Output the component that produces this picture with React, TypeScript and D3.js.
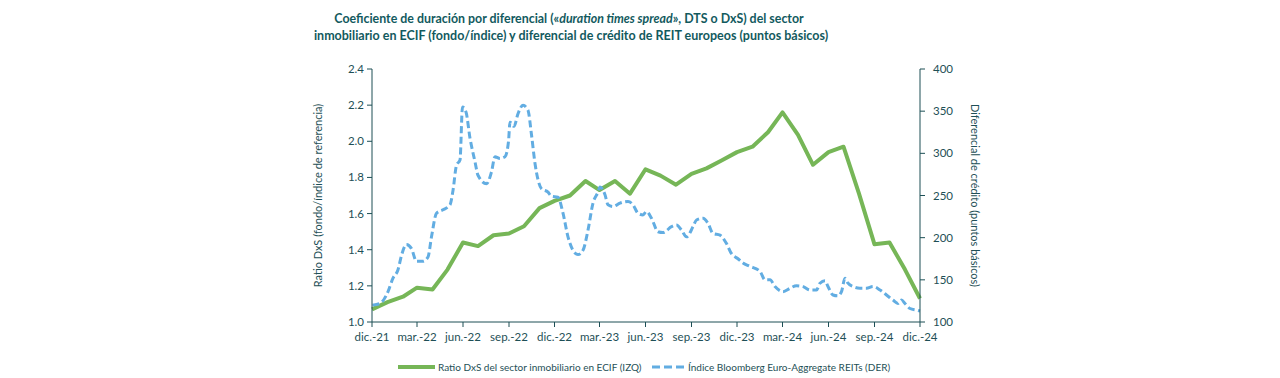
import React from "react";
import * as d3 from "d3";

const quarterLabels = ["dic.-21", "mar.-22", "jun.-22", "sep.-22", "dic.-22", "mar.-23", "jun.-23", "sep.-23", "dic.-23", "mar.-24", "jun.-24", "sep.-24", "dic.-24"];
const quarterDates = ["2021-12-01", "2022-03-01", "2022-06-01", "2022-09-01", "2022-12-01", "2023-03-01", "2023-06-01", "2023-09-01", "2023-12-01", "2024-03-01", "2024-06-01", "2024-09-01", "2024-12-01"];

const ratioDates = [
  "2021-12-01", "2022-01-01", "2022-02-01", "2022-03-01", "2022-04-01", "2022-05-01", "2022-06-01", "2022-07-01", "2022-08-01", "2022-09-01", "2022-10-01", "2022-11-01",
  "2022-12-01", "2023-01-01", "2023-02-01", "2023-03-01", "2023-04-01", "2023-05-01", "2023-06-01", "2023-07-01", "2023-08-01", "2023-09-01", "2023-10-01", "2023-11-01",
  "2023-12-01", "2024-01-01", "2024-02-01", "2024-03-01", "2024-04-01", "2024-05-01", "2024-06-01", "2024-07-01", "2024-08-01", "2024-09-01", "2024-10-01", "2024-11-01",
  "2024-12-01",
];
const ratioValues = [
  1.07, 1.11, 1.14, 1.19, 1.18, 1.29, 1.44, 1.42, 1.48, 1.49, 1.53, 1.63,
  1.67, 1.70, 1.78, 1.73, 1.78, 1.71, 1.845, 1.81, 1.76, 1.82, 1.85, 1.895,
  1.94, 1.97, 2.05, 2.16, 2.035, 1.87, 1.94, 1.97, 1.71, 1.43, 1.44, 1.29,
  1.13,
];

const spreadDates = [
  "2021-12-02", "2021-12-17", "2022-01-02", "2022-01-12", "2022-01-22", "2022-01-29", "2022-02-08", "2022-02-18", "2022-02-28", "2022-03-13",
  "2022-03-23", "2022-03-30", "2022-04-09", "2022-04-22", "2022-05-06", "2022-05-12", "2022-05-19", "2022-05-26", "2022-05-31", "2022-06-07",
  "2022-06-15", "2022-06-25", "2022-07-01", "2022-07-18", "2022-07-28", "2022-08-04", "2022-08-14", "2022-08-24", "2022-08-31", "2022-09-03",
  "2022-09-11", "2022-09-19", "2022-09-29", "2022-10-09", "2022-10-16", "2022-10-23", "2022-11-05", "2022-11-18", "2022-11-25", "2022-12-08",
  "2022-12-18", "2022-12-28", "2023-01-07", "2023-01-17", "2023-01-27", "2023-02-06", "2023-02-16", "2023-02-26", "2023-03-02", "2023-03-12",
  "2023-03-18", "2023-03-28", "2023-04-11", "2023-04-27", "2023-05-07", "2023-05-17", "2023-05-27", "2023-06-03", "2023-06-13", "2023-06-26",
  "2023-07-06", "2023-07-23", "2023-08-02", "2023-08-12", "2023-08-22", "2023-09-04", "2023-09-11", "2023-09-24", "2023-10-04", "2023-10-14",
  "2023-10-28", "2023-11-10", "2023-11-20", "2023-12-03", "2023-12-13", "2023-12-27", "2024-01-16", "2024-01-26", "2024-02-05", "2024-02-15",
  "2024-03-02", "2024-03-16", "2024-03-29", "2024-04-11", "2024-04-25", "2024-05-08", "2024-05-15", "2024-05-25", "2024-05-31", "2024-06-10",
  "2024-06-20", "2024-06-27", "2024-07-04", "2024-07-10", "2024-07-20", "2024-08-03", "2024-08-16", "2024-08-29", "2024-09-12", "2024-09-25",
  "2024-10-08", "2024-10-18", "2024-10-25", "2024-11-01", "2024-11-11", "2024-11-24", "2024-12-01",
];
const spreadValues = [
  120, 122, 136, 152, 162, 179, 192, 187, 172, 172,
  177, 201, 229, 233, 239, 256, 286, 292, 355, 349,
  318, 290, 274, 264, 278, 296, 294, 296, 314, 337,
  332, 347, 357, 351, 322, 288, 258, 254, 249, 248,
  229, 201, 185, 180, 185, 209, 241, 254, 260, 251,
  239, 237, 241, 243, 239, 229, 227, 231, 223, 207,
  206, 213, 215, 209, 201, 213, 221, 223, 217, 205,
  203, 193, 181, 175, 170, 166, 160, 150, 150, 142,
  136, 140, 143, 142, 138, 138, 146, 149, 142, 132,
  131, 136, 152, 146, 142, 140, 140, 142, 138, 132,
  126, 122, 126, 122, 116, 114, 113,
];

const leftTicks = [1.0, 1.2, 1.4, 1.6, 1.8, 2.0, 2.2, 2.4];
const rightTicks = [100, 150, 200, 250, 300, 350, 400];

const titleLines = [
  ["Coeficiente de duración por diferencial («", "duration times spread", "», DTS o DxS) del sector"],
  ["inmobiliario en ECIF (fondo/índice) y diferencial de crédito de REIT europeos (puntos básicos)"],
];
const leftAxisTitle = "Ratio DxS (fondo/índice de referencia)";
const rightAxisTitle = "Diferencial de crédito (puntos básicos)";
const legendGreen = "Ratio DxS del sector inmobiliario en ECIF (IZQ)";
const legendBlue = "Índice Bloomberg Euro-Aggregate REITs (DER)";

const GREEN = "#76B657";
const BLUE = "#62ADE2";
const AXIS = "#1C4F55";
const TEXT = "#1E4F56";
const TITLE = "#125A5E";
const FONT = "Lato, 'Open Sans', sans-serif";

export default function App() {
  const W = 1280, H = 378;
  const x0 = 372, x1 = 920, yTop = 69, yBot = 322;
  const parse = (s: string) => d3.isoParse(s) as Date;

  const x = d3.scaleUtc().domain([parse("2021-12-01"), parse("2024-12-01")]).range([x0, x1]);
  const yL = d3.scaleLinear().domain([1.0, 2.4]).range([yBot, yTop]);
  const yR = d3.scaleLinear().domain([100, 400]).range([yBot, yTop]);

  const green = ratioDates.map((d, i) => ({ d: parse(d), v: ratioValues[i] }));
  const blue = spreadDates.map((d, i) => ({ d: parse(d), v: spreadValues[i] }));

  const gLine = d3.line<{ d: Date; v: number }>().x(p => x(p.d)).y(p => yL(p.v));
  const bLine = d3.line<{ d: Date; v: number }>().x(p => x(p.d)).y(p => yR(p.v)).curve(d3.curveMonotoneX);

  return (
    <svg width={W} height={H} style={{ position: "absolute", left: 0, top: 0, background: "#fff" }} fontFamily={FONT}>
      {/* title */}
      <text x={569} y={23} textAnchor="middle" fontSize={12.4} fontWeight="bold" fill={TITLE}>
        {titleLines[0][0]}
        <tspan fontStyle="italic">{titleLines[0][1]}</tspan>
        {titleLines[0][2]}
      </text>
      <text x={571} y={40} textAnchor="middle" fontSize={12.5} fontWeight="bold" fill={TITLE}>
        {titleLines[1][0]}
      </text>

      {/* lines */}
      <path d={gLine(green) || ""} fill="none" stroke={GREEN} strokeWidth={4} strokeLinejoin="round" />
      <path d={bLine(blue) || ""} fill="none" stroke={BLUE} strokeWidth={3} strokeDasharray="7,3.5" />

      {/* axes */}
      <line x1={x0} x2={x0} y1={yTop} y2={yBot} stroke={AXIS} strokeWidth={1} />
      <line x1={x1} x2={x1} y1={yTop} y2={yBot} stroke={AXIS} strokeWidth={1} />
      <line x1={x0} x2={x1} y1={yBot} y2={yBot} stroke={AXIS} strokeWidth={1} />
      {leftTicks.map(t => (
        <g key={"l" + t}>
          <line x1={x0 - 5} x2={x0} y1={yL(t)} y2={yL(t)} stroke={AXIS} />
          <text x={x0 - 8} y={yL(t)} dy="0.35em" textAnchor="end" fontSize={11.5} fill={TEXT}>{d3.format(".1f")(t)}</text>
        </g>
      ))}
      {rightTicks.map(t => (
        <g key={"r" + t}>
          <line x1={x1} x2={x1 + 5} y1={yR(t)} y2={yR(t)} stroke={AXIS} />
          <text x={x1 + 13} y={yR(t)} dy="0.35em" textAnchor="start" fontSize={11.5} fill={TEXT}>{t}</text>
        </g>
      ))}
      {quarterDates.map((d, i) => (
        <g key={"q" + i}>
          <line x1={x(parse(d))} x2={x(parse(d))} y1={yBot} y2={yBot + 5} stroke={AXIS} />
          <text x={x(parse(d))} y={341} textAnchor="middle" fontSize={11.5} fill={TEXT}>{quarterLabels[i]}</text>
        </g>
      ))}

      {/* axis titles */}
      <text transform={`translate(322,${(yTop + yBot) / 2}) rotate(-90)`} textAnchor="middle" fontSize={11} fill={TEXT}>{leftAxisTitle}</text>
      <text transform={`translate(971,${(yTop + yBot) / 2}) rotate(90)`} textAnchor="middle" fontSize={11} fill={TEXT}>{rightAxisTitle}</text>

      {/* legend */}
      <line x1={398} x2={435} y1={367} y2={367} stroke={GREEN} strokeWidth={4} />
      <text x={438} y={370.5} fontSize={10} fill={TEXT}>{legendGreen}</text>
      <line x1={652} x2={684} y1={367} y2={367} stroke={BLUE} strokeWidth={3} strokeDasharray="8,4" />
      <text x={688} y={370.5} fontSize={10} fill={TEXT}>{legendBlue}</text>
    </svg>
  );
}
